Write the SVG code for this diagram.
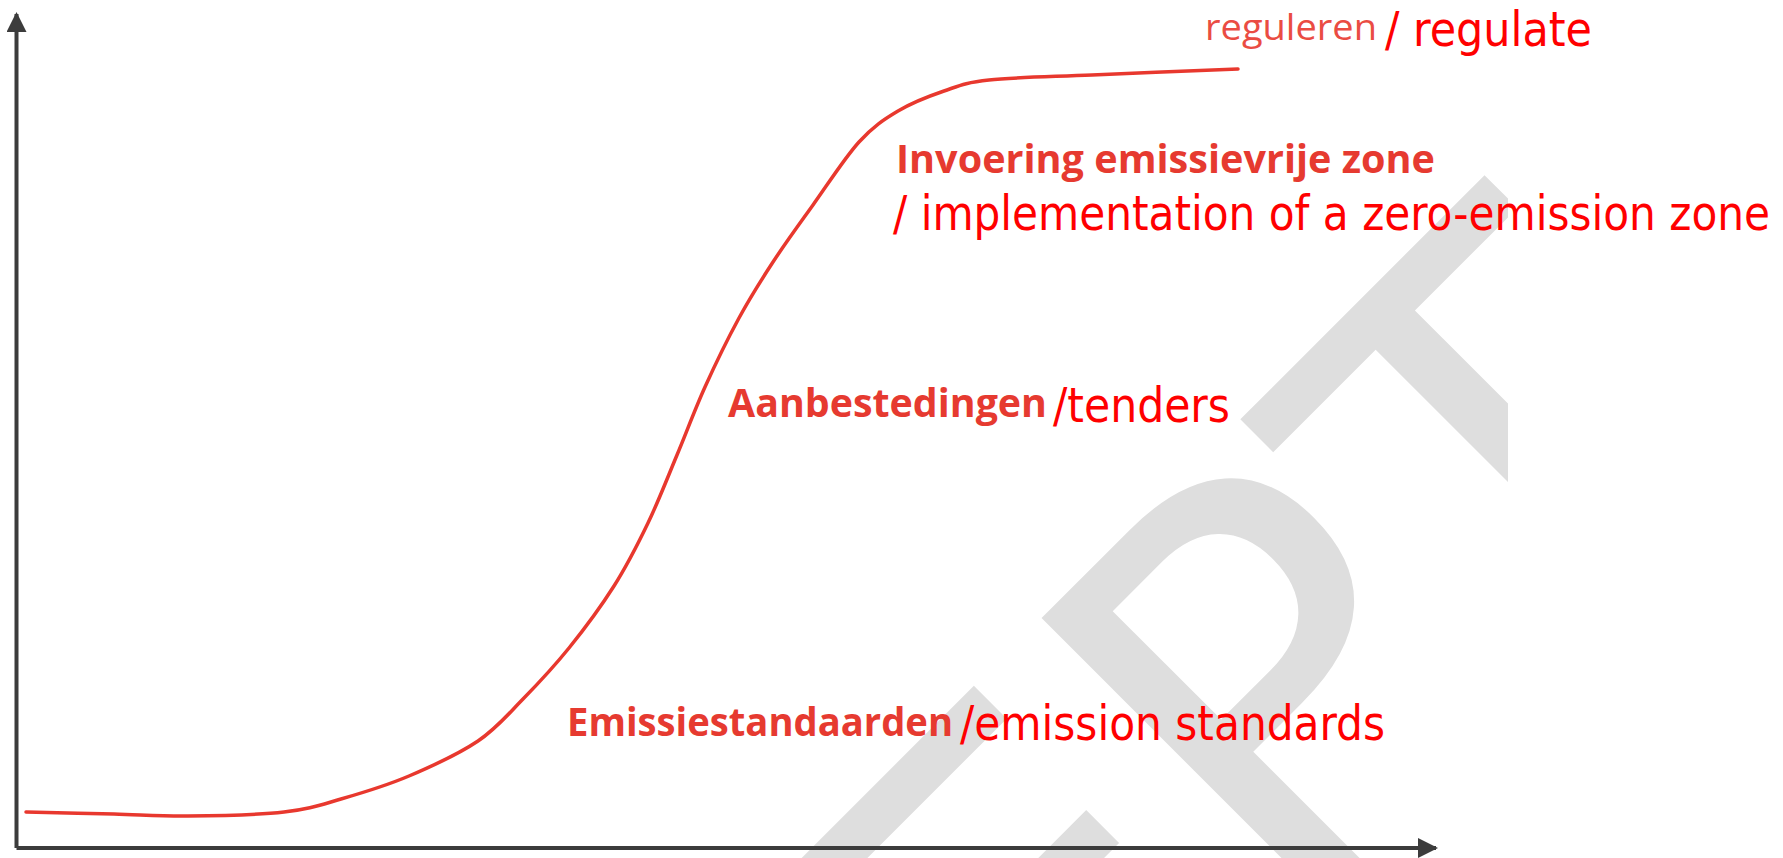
<svg xmlns="http://www.w3.org/2000/svg" width="1783" height="858" viewBox="0 0 1783 858">
  <style>
    .nl { font-family: "Open Sans", "Liberation Sans", sans-serif; font-weight: 700; font-size: 39px; fill: #e63a30; }
    .nlr { font-family: "Open Sans", "Liberation Sans", sans-serif; font-weight: 400; font-size: 36px; fill: #ea4c43; }
    .en { font-family: "DejaVu Sans Condensed", "DejaVu Sans", sans-serif; font-stretch: condensed; font-size: 48px; fill: #ff0000; }
    .axis { stroke: #3c3c3c; stroke-width: 4; fill: none; }
    .curve { stroke: #e8382e; stroke-width: 3.5; fill: none; stroke-linecap: round; }
    .wm { font-family: "DejaVu Sans", sans-serif; font-size: 560px; fill: #dedede; }
  </style>
  <defs>
    <clipPath id="wmclip"><rect x="0" y="0" width="1508" height="858"/></clipPath>
    <marker id="arrow" viewBox="0 0 10 10" refX="9" refY="5" markerWidth="5" markerHeight="5" orient="auto" markerUnits="strokeWidth">
      <path d="M0,0 L10,5 L0,10 Z" fill="#3c3c3c"/>
    </marker>
  </defs>
  <rect x="0" y="0" width="1783" height="858" fill="#ffffff"/>

  <g id="watermark" clip-path="url(#wmclip)">
    <text class="wm" transform="translate(-119.7,2356.7) rotate(-45)">CONCEPT</text>
  </g>

  <g id="connectors">
    <path id="y-axis" class="axis" d="M16.5,848 L16.5,14" marker-end="url(#arrow)"/>
    <path id="x-axis" class="axis" d="M16.5,848 L1436,848" marker-end="url(#arrow)"/>
    <path id="s-curve" class="curve" d="M26,812 C40.7,812.3 87,813.3 114,814 C141,814.7 159.7,816.3 188,816 C216.3,815.7 258.5,814.8 284,812 C309.5,809.2 320.2,805 341,799 C361.8,793 386.2,785.7 409,776 C431.8,766.3 459,753.8 478,741 C497,728.2 507.8,714.5 523,699 C538.2,683.5 553.8,666.8 569,648 C584.2,629.2 600.8,606.8 614,586 C627.2,565.2 637.5,544.8 648,523 C658.5,501.2 667.5,477.7 677,455 C686.5,432.3 694.7,409.8 705,387 C715.3,364.2 727.7,338.8 739,318 C750.3,297.2 760.7,280.8 773,262 C785.3,243.2 798.7,225 813,205 C827.3,185 844.8,157.7 859,142 C873.2,126.3 883.8,119.5 898,111 C912.2,102.5 928.8,96.2 944,91 C959.2,85.8 964.3,82.7 989,80 C1013.7,77.3 1050.5,76.8 1092,75 C1133.5,73.2 1213.7,70 1238,69"/>
  </g>

  <g id="node-regulate">
    <text class="nlr" x="1205" y="40" textLength="172" lengthAdjust="spacingAndGlyphs">reguleren</text>
    <text class="en" x="1385" y="46" textLength="207" lengthAdjust="spacingAndGlyphs">/ regulate</text>
  </g>

  <g id="node-zone">
    <text class="nl" x="896" y="173" textLength="539" lengthAdjust="spacingAndGlyphs">Invoering emissievrije zone</text>
    <text class="en" x="893" y="230" textLength="877" lengthAdjust="spacingAndGlyphs">/ implementation of a zero-emission zone</text>
  </g>

  <g id="node-tenders">
    <text class="nl" x="728" y="417" textLength="319" lengthAdjust="spacingAndGlyphs">Aanbestedingen</text>
    <text class="en" x="1053" y="422" textLength="177" lengthAdjust="spacingAndGlyphs">/tenders</text>
  </g>

  <g id="node-standards">
    <text class="nl" x="567" y="736" textLength="386" lengthAdjust="spacingAndGlyphs">Emissiestandaarden</text>
    <text class="en" x="960" y="740" textLength="425" lengthAdjust="spacingAndGlyphs">/emission standards</text>
  </g>
</svg>
